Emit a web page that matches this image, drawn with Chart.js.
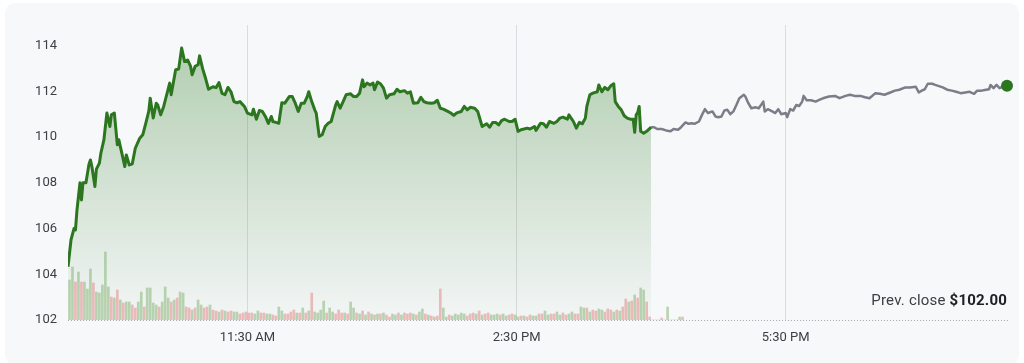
<!DOCTYPE html>
<html>
<head>
<meta charset="utf-8">
<title>Intraday price</title>
<script src="https://cdn.jsdelivr.net/npm/chart.js@4.4.1/dist/chart.umd.min.js"></script>
<style>
    html, body { margin: 0; padding: 0; background: #ffffff; }
    body { width: 1024px; height: 363px; position: relative; overflow: hidden; font-family: Roboto, Arial, sans-serif; }
    .panel { position: absolute; left: 5px; top: 3px; width: 1014px; height: 362px; background: #f7f8fa; border-radius: 10px; }
    #priceChart { position: absolute; left: 0; top: 0; }
    .prev-close { position: absolute; right: 17px; top: 292px; font-size: 15px; line-height: 17px; letter-spacing: 0.2px; color: #3c4043; }
    .prev-close b { color: #202124; font-weight: 700; }
</style>
</head>
<body>
<div class="panel"></div>
<canvas id="priceChart" width="1024" height="363"></canvas>
<div class="prev-close">Prev. close <b>$102.00</b></div>

<script>
// x values are minutes after the 9:30 AM open; the axis runs to 8:00 PM
const xMax = 630;
const tickMin = [120, 300, 480];
const tickLabels = ['11:30 AM', '2:30 PM', '5:30 PM'];

// regular session (9:30 AM - 4:00 PM)
const regMin = [0, 2, 4, 5, 6, 7, 8, 9, 10, 12, 14, 15, 16, 18, 19, 21, 22, 24, 25, 26,
    28, 29, 31, 33, 34, 36, 38, 39, 41, 43, 45, 48, 50, 52, 54, 55, 57, 59, 60, 62,
    64, 66, 68, 69, 72, 74, 76, 78, 80, 82, 83, 85, 87, 88, 90, 92, 94, 97, 99, 101,
    103, 105, 107, 109, 111, 113, 115, 118, 120, 123, 124, 126, 128, 130, 132, 134, 136, 137, 139, 141,
    143, 145, 148, 150, 152, 154, 156, 158, 160, 161, 163, 165, 166, 168, 170, 172, 174, 176, 179, 180,
    182, 184, 186, 189, 191, 193, 195, 197, 198, 200, 202, 204, 205, 207, 209, 211, 213, 215, 218, 220,
    222, 225, 227, 229, 231, 234, 236, 238, 240, 243, 245, 247, 249, 251, 254, 256, 258, 260, 263, 265,
    267, 269, 272, 274, 276, 277, 280, 282, 284, 286, 288, 290, 292, 295, 297, 299, 301, 303, 305, 307,
    309, 312, 313, 316, 318, 320, 322, 325, 327, 329, 331, 334, 335, 338, 340, 342, 344, 346, 347, 349,
    351, 354, 355, 357, 359, 361, 363, 365, 366, 368, 370, 372, 374, 376, 378, 379, 380, 381, 382, 383,
    385, 387, 390];
const regPrice = [104.33, 105.5, 106.0, 105.94, 106.8, 107.4, 108.0, 107.25, 108.0, 108.0, 108.8, 109.0, 108.7, 107.84, 108.6, 108.86, 109.3, 109.88, 110.46, 111.05,
    110.46, 110.97, 111.05, 109.66, 109.88, 109.3, 108.71, 109.22, 108.78, 108.83, 109.51, 109.95, 110.1, 110.6, 111.12, 111.7, 110.83, 111.48, 111.4, 110.97,
    111.34, 111.85, 112.36, 111.85, 112.94, 112.97, 113.89, 113.3, 113.37, 113.09, 112.72, 113.09, 113.16, 113.55, 113.0, 112.57, 112.09, 112.2, 112.16, 112.38,
    111.91, 111.85, 112.17, 111.98, 111.55, 111.5, 111.55, 111.34, 111.05, 110.97, 111.22, 110.78, 111.16, 111.12, 110.9, 110.6, 110.9, 110.68, 110.64, 110.6,
    111.5, 111.48, 111.77, 111.77, 111.48, 111.12, 111.48, 111.48, 111.77, 111.98, 111.55, 111.19, 111.05, 110.03, 110.1, 110.46, 110.6, 110.68, 111.4, 111.55,
    111.26, 111.55, 111.85, 111.89, 111.77, 111.77, 111.92, 112.5, 112.2, 112.36, 112.28, 112.36, 112.07, 112.4, 112.33, 112.14, 111.7, 111.85, 111.89, 112.09,
    111.98, 112.03, 111.92, 111.98, 111.48, 111.5, 111.74, 111.55, 111.5, 111.48, 111.5, 111.61, 111.26, 111.22, 111.12, 111.05, 110.95, 111.06, 111.12, 111.34,
    111.19, 111.3, 111.26, 111.12, 110.68, 110.46, 110.58, 110.43, 110.64, 110.64, 110.53, 110.72, 110.78, 110.68, 110.68, 110.78, 110.25, 110.32, 110.35, 110.39,
    110.35, 110.46, 110.29, 110.6, 110.58, 110.43, 110.68, 110.6, 110.68, 110.83, 110.87, 110.78, 110.97, 110.68, 110.39, 110.64, 110.58, 110.83, 111.34, 111.85,
    111.92, 111.98, 112.28, 111.98, 112.17, 112.07, 112.24, 112.33, 111.55, 111.34, 111.19, 110.93, 110.83, 110.78, 110.78, 110.21, 110.97, 111.07, 111.34, 110.25,
    110.17, 110.25, 110.43];

// after hours (4:00 PM - 8:00 PM)
const ahMin = [390, 392, 394, 397, 400, 403, 405, 408, 410, 413, 415, 417, 419, 422, 424, 426, 428, 431, 433, 435,
    437, 439, 441, 443, 445, 447, 449, 452, 453, 455, 457, 460, 462, 465, 466, 468, 471, 473, 475, 477,
    480, 481, 483, 485, 487, 489, 491, 492, 494, 497, 500, 502, 504, 506, 509, 513, 516, 520, 523, 526,
    530, 533, 536, 540, 543, 546, 550, 553, 556, 560, 563, 567, 569, 571, 573, 575, 578, 580, 582, 585,
    588, 591, 594, 597, 600, 603, 606, 608, 611, 614, 616, 617, 619, 621, 623, 625, 628];
const ahPrice = [110.43, 110.43, 110.35, 110.35, 110.29, 110.25, 110.35, 110.32, 110.43, 110.64, 110.58, 110.6, 110.58, 110.68, 110.97, 111.22, 111.05, 111.12, 110.9, 110.87,
    110.9, 111.16, 111.19, 111.0, 111.12, 111.4, 111.7, 111.85, 111.77, 111.48, 111.26, 111.3, 111.26, 111.55, 111.12, 111.22, 111.12, 111.05, 111.22, 111.0,
    111.05, 110.87, 111.22, 111.16, 111.4, 111.36, 111.55, 111.8, 111.61, 111.61, 111.55, 111.61, 111.67, 111.72, 111.77, 111.8, 111.7, 111.8, 111.85, 111.8,
    111.8, 111.74, 111.7, 111.92, 111.89, 111.85, 111.95, 112.03, 112.07, 112.17, 112.17, 112.2, 111.95, 112.03, 112.09, 112.33, 112.33, 112.28, 112.24, 112.17,
    112.07, 112.03, 111.98, 111.92, 111.95, 111.98, 111.89, 112.03, 112.03, 112.07, 112.09, 112.28, 112.14, 112.28, 112.14, 112.2, 112.24];

// volume in thousands of shares, one bar per 2 minutes; g = up bar, p = down bar
const volStep = 2;
const volK = [400, 530, 380, 480, 380, 380, 310, 510, 370, 280,
    270, 350, 680, 330, 230, 220, 300, 200, 170, 180,
    180, 150, 120, 180, 280, 130, 320, 320, 170, 150,
    130, 180, 330, 220, 180, 200, 220, 280, 270, 130,
    120, 100, 120, 200, 150, 120, 130, 150, 100, 90,
    80, 100, 90, 80, 90, 80, 80, 60, 70, 80,
    70, 70, 60, 90, 70, 70, 60, 60, 50, 40,
    130, 90, 60, 60, 80, 100, 70, 70, 120, 70,
    90, 270, 80, 70, 100, 190, 70, 120, 80, 60,
    100, 70, 70, 60, 180, 120, 70, 60, 90, 50,
    80, 60, 50, 60, 60, 70, 50, 30, 60, 50,
    70, 50, 70, 60, 70, 60, 50, 80, 110, 60,
    50, 40, 30, 40, 310, 120, 30, 50, 40, 60,
    50, 70, 60, 40, 60, 70, 60, 90, 50, 60,
    70, 50, 50, 60, 50, 60, 40, 50, 60, 50,
    30, 40, 40, 30, 50, 40, 40, 60, 60, 90,
    50, 60, 60, 80, 50, 70, 50, 60, 80, 60,
    60, 130, 120, 120, 80, 100, 90, 110, 100, 80,
    110, 100, 80, 100, 90, 130, 210, 180, 190, 250,
    220, 320, 300, 180, 30,
    0, 0, 0, 20, 0, 130, 0, 0, 0, 30, 30];
const volDir = 'ggpgpgggpg' + 'ggggpgpgpg' + 'gppggpgggg' + 'pgggpgpggp' + 'pgpggppgpp' +
    'gpgppggppp' + 'ppggppggpp' + 'ggppppgpgp' + 'gpggggpggp' + 'ppgpggpgpg' +
    'pgpgpgppgg' + 'pgpppgpggp' + 'gpgppggpgg' + 'gggpppgpgp' + 'pgggpggppg' +
    'gpgppggppg' + 'gppggppggp' + 'pggpgppggp' + 'ppgpgppgpg' + 'pggpp' +
    'pppppgpppgp';

const LINE_GREEN = '#2b761f';
const AH_GREY = '#7b7d88';
const VOL_UP = 'rgba(125, 175, 108, 0.5)';
const VOL_DOWN = 'rgba(226, 128, 128, 0.5)';

function areaGradient(context) {
    const { ctx, chartArea } = context.chart;
    if (!chartArea) return null;
    const g = ctx.createLinearGradient(0, chartArea.top, 0, chartArea.bottom);
    g.addColorStop(0, 'rgba(46, 125, 35, 0.36)');
    g.addColorStop(1, 'rgba(46, 125, 35, 0.02)');
    return g;
}

// dotted baseline along the bottom of the plot
const dottedBaseline = {
    id: 'dottedBaseline',
    beforeDatasetsDraw(chart) {
        const { ctx, chartArea } = chart;
        ctx.save();
        ctx.strokeStyle = '#a9abb0';
        ctx.lineWidth = 1;
        ctx.setLineDash([1, 2]);
        ctx.beginPath();
        ctx.moveTo(chartArea.left, chartArea.bottom + 0.5);
        ctx.lineTo(chartArea.right, chartArea.bottom + 0.5);
        ctx.stroke();
        ctx.restore();
    }
};

const axisFont = { family: 'Roboto', size: 13 };

new Chart(document.getElementById('priceChart').getContext('2d'), {
    type: 'line',
    data: {
        datasets: [{
            type: 'bar',
            label: 'Volume',
            data: volK.map((v, i) => ({ x: i * volStep + volStep / 2, y: v })),
            yAxisID: 'yv',
            backgroundColor: volDir.split('').map(d => d === 'g' ? VOL_UP : VOL_DOWN),
            barThickness: 2,
            order: 0
        }, {
            label: 'Price',
            data: regMin.map((m, i) => ({ x: m, y: regPrice[i] })),
            borderColor: LINE_GREEN,
            borderWidth: 3,
            borderJoinStyle: 'round',
            backgroundColor: areaGradient,
            fill: 'start',
            pointRadius: 0,
            tension: 0,
            order: 1
        }, {
            label: 'After hours',
            data: ahMin.map((m, i) => ({ x: m, y: ahPrice[i] })),
            borderColor: AH_GREY,
            borderWidth: 2.5,
            borderJoinStyle: 'round',
            fill: false,
            pointRadius: c => c.dataIndex === ahMin.length - 1 ? 6 : 0,
            pointBackgroundColor: LINE_GREEN,
            pointBorderWidth: 0,
            tension: 0,
            clip: false,
            order: 1
        }]
    },
    options: {
        responsive: false,
        animation: false,
        layout: { padding: { top: 25, right: 14, bottom: 0, left: 0 } },
        plugins: {
            legend: { display: false },
            tooltip: { enabled: false }
        },
        scales: {
            x: {
                type: 'linear',
                min: 0,
                max: xMax,
                offset: false,
                afterBuildTicks: s => { s.ticks = tickMin.map(v => ({ value: v })); },
                afterFit: s => { s.height = 43; },
                grid: { color: '#dadce0', drawTicks: false, offset: false },
                border: { display: false },
                ticks: {
                    padding: 10,
                    color: '#3c4043',
                    font: axisFont,
                    maxRotation: 0,
                    autoSkip: false,
                    callback: (v, i) => tickLabels[i]
                }
            },
            y: {
                min: 102,
                max: 114.9,
                afterFit: s => { s.width = 68; },
                grid: { display: false, drawTicks: false },
                border: { display: false },
                ticks: {
                    stepSize: 2,
                    includeBounds: false,
                    padding: 11,
                    color: '#3c4043',
                    font: axisFont
                }
            },
            yv: {
                display: false,
                min: 0,
                max: 2950
            }
        }
    },
    plugins: [dottedBaseline]
});
</script>
</body>
</html>
